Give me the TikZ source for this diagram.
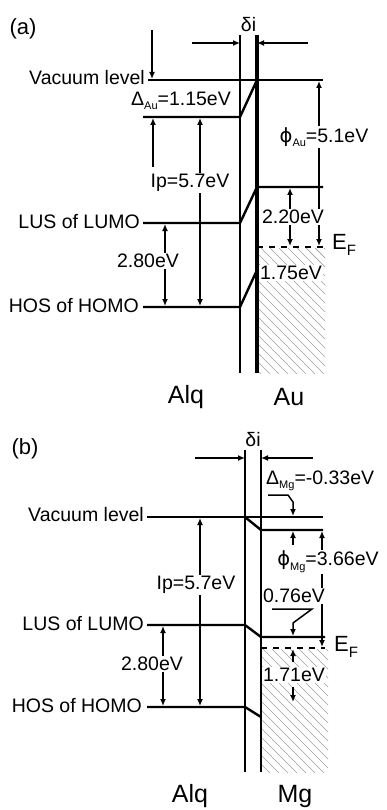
\documentclass[tikz,border=0pt]{standalone}
\usepackage{fontspec}
\setmainfont{Liberation Sans}
\newfontfamily\phifont{DejaVu Sans}
\usetikzlibrary{arrows.meta}
\newcommand{\lab}{\fontsize{19.5}{22}\selectfont}
\newcommand{\labbig}{\fontsize{25}{28}\selectfont}
\newcommand{\sbs}[1]{\raisebox{-0.45ex}{\fontsize{11}{12}\selectfont #1}}
\newcommand{\sbsF}[1]{\raisebox{-0.5ex}{\fontsize{15}{16}\selectfont #1}}
\newcommand{\phisym}{{\phifont ϕ}}
\tikzset{
  lvl/.style={line width=2.4pt},
  ifL/.style={line width=2.6pt},
  ifR/.style={line width=3.2pt},
  arr/.style={line width=1.5pt,-{Latex[length=7pt,width=6pt]}},
  darr/.style={line width=1.5pt,{Latex[length=7pt,width=6pt]}-{Latex[length=7pt,width=6pt]}},
  lbl/.style={font=\lab,inner sep=1pt},
  wlbl/.style={lbl,fill=white},
  panl/.style={font=\fontsize{22}{24}\selectfont,inner sep=1pt},
  efl/.style={line width=2pt,dash pattern=on 6pt off 6pt},
  hatchl/.style={gray!75,line width=0.7pt}
}
\begin{document}
\begin{tikzpicture}[x=1pt,y=-1pt]
\useasboundingbox (0,0) rectangle (386,810);
\fill[white] (0,0) rectangle (386,810);

%%%%%%%%%%%%%%%% panel (a)
\node[panl] (alab) at (23,29) {(a)};
% hatch
\begin{scope}
\clip (258,248) rectangle (325,373);
\foreach \s in {0,...,23} { \draw[hatchl] ({126+9*\s},248) -- ({256+9*\s},378); }
\end{scope}
% interfaces
\coordinate (aIT) at (240,35); \coordinate (aIB) at (240,373);
\coordinate (aJT) at (257,35); \coordinate (aJB) at (257,373);
\draw[ifL] (aIT) -- (aIB);
\draw[ifR] (aJT) -- (aJB);
\node[lbl] (adi) at (248.5,25) {δi};
\coordinate (adl) at (192,43); \coordinate (adr) at (308,43);
\draw[arr] (adl) -- (aIT |- adl);
\draw[arr] (adr) -- (aJT |- adr);
% vacuum
\coordinate (aVL) at (148,80); \coordinate (aVR) at (323,80);
\draw[lvl] (aVL) -- (aVR);
\node[lbl,anchor=east,inner sep=0pt] (avac) at (145,78) {Vacuum level};
\coordinate (aAV) at (143,117); \coordinate (aAVr) at (240,117);
\draw[lvl] (aAV) -- (aAVr) -- (257,80);
% Delta
\coordinate (aDt) at (152,30);
\draw[arr] (aDt) -- (152,79);
\draw[arr] (153,167) -- (153,118);
\node[lbl,inner sep=0pt] (aDel) at (181,101) {Δ\sbs{Au}=1.15eV};
% LUMO / HOMO
\coordinate (aLL) at (143,223); \coordinate (aLR) at (240,223);
\coordinate (aHL) at (143,307); \coordinate (aHR) at (240,307);
\draw[lvl] (aLL) -- (aLR) -- (257,187) -- (323,187);
\draw[lvl] (aHL) -- (aHR) -- (257,270);
\node[lbl,anchor=east] (alus) at (141,222) {LUS of LUMO};
\node[lbl,anchor=east] (ahos) at (140,306) {HOS of HOMO};
% Ip
\draw[darr] (200,118) -- (200,306);
\node[wlbl] (aip) at (190,183) {Ip=5.7eV};
% 2.80
\draw[darr] (165,224) -- (165,306);
\node[wlbl] (a280) at (148,261) {2.80eV};
% E_F
\coordinate (aEL) at (257,247); \coordinate (aER) at (323,247);
\draw[efl] (aEL) -- (aER);
\node[lbl,anchor=west,font=\fontsize{22}{24}\selectfont] (aEF) at (331,245) {E\sbsF{F}};
% phi
\draw[darr] (319,81) -- (319,246);
\node[wlbl] (aphi) at (324,137) {\phisym\sbs{Au}=5.1eV};
% 2.20
\draw[darr] (290,188) -- (290,246);
\node[wlbl] (a220) at (293,217) {2.20eV};
\node[wlbl] (a175) at (291,273) {1.75eV};
\node[font=\labbig] (aalq) at (186,397) {Alq};
\node[font=\labbig] (aau) at (289,397) {Au};

%%%%%%%%%%%%%%%% panel (b)
\node[panl] (blab) at (25,449) {(b)};
\begin{scope}
\clip (262,649) rectangle (328,772);
\foreach \s in {0,...,23} { \draw[hatchl] ({128+9*\s},649) -- ({258+9*\s},779); }
\end{scope}
\coordinate (bIT) at (245,450); \coordinate (bIB) at (245,772);
\coordinate (bJT) at (261,450); \coordinate (bJB) at (261,772);
\draw[ifL] (bIT) -- (bIB);
\draw[ifL] (bJT) -- (bJB);
\node[lbl] (bdi) at (253,440) {δi};
\coordinate (bdl) at (195,458); \coordinate (bdr) at (313,458);
\draw[arr] (bdl) -- (bIT |- bdl);
\draw[arr] (bdr) -- (bJT |- bdr);
% vacuum
\coordinate (bVL) at (147,517); \coordinate (bVR) at (323,517);
\draw[lvl] (bVL) -- (bVR);
\node[lbl,anchor=east] (bvac) at (145,515) {Vacuum level};
\draw[lvl] (245,517) -- (261,530) -- (323,530);
% Delta Mg
\node[lbl,anchor=west] (bDel) at (265,481) {Δ\sbs{Mg}=-0.33eV};
\draw[arr] (268,495) -- (288,495) -- (293,502) -- (293,516);
\draw[arr] (293,545) -- (293,531);
% LUMO HOMO
\coordinate (bLL) at (147,625); \coordinate (bLR) at (245,625);
\coordinate (bHL) at (147,707); \coordinate (bHR) at (245,707);
\draw[lvl] (bLL) -- (bLR) -- (261,637) -- (325,637);
\draw[lvl] (bHL) -- (bHR) -- (261,717);
\node[lbl,anchor=east] (blus) at (145,624) {LUS of LUMO};
\node[lbl,anchor=east] (bhos) at (143,706) {HOS of HOMO};
% Ip
\draw[darr] (200,518) -- (200,706);
\node[wlbl] (bip) at (196,585) {Ip=5.7eV};
% 2.80
\draw[darr] (163,626) -- (163,706);
\node[wlbl] (b280) at (152,664) {2.80eV};
% E_F
\coordinate (bEL) at (261,648); \coordinate (bER) at (325,648);
\draw[efl] (bEL) -- (bER);
\node[lbl,anchor=west,font=\fontsize{22}{24}\selectfont] (bEF) at (333,647) {E\sbsF{F}};
% phi Mg
\draw[darr] (322,531) -- (322,647);
\node[wlbl] (bphi) at (328,562) {\phisym\sbs{Mg}=3.66eV};
% 0.76
\node[wlbl] (b076) at (294,596) {0.76eV};
\draw[arr] (272,609) -- (312,609) -- (293,623) -- (293,636);
% 1.71
\draw[arr] (293,662) -- (293,649);
\node[wlbl] (b171) at (294,675) {1.71eV};
\draw[arr] (293,687) -- (293,702);
\node[font=\labbig] (balq) at (190,796) {Alq};
\node[font=\labbig] (bmg) at (295,796) {Mg};
\end{tikzpicture}
\end{document}
